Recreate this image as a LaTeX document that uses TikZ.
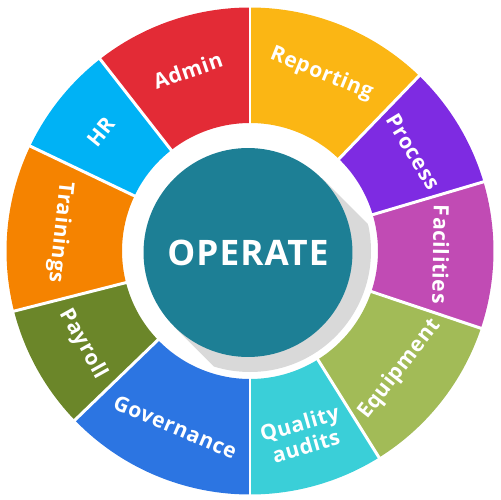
\documentclass[tikz,border=0pt]{standalone}
\usepackage{fontspec}
\setmainfont{Open Sans}
\newfontfamily\lblfont[LetterSpace=3]{Open Sans}
\usetikzlibrary{backgrounds}
\definecolor{opred}{HTML}{E32B36}
\definecolor{opsky}{HTML}{00B2F5}
\definecolor{oporange}{HTML}{F58300}
\definecolor{opolive}{HTML}{6B8629}
\definecolor{opblue}{HTML}{2C75E2}
\definecolor{opcyan}{HTML}{3ACFD8}
\definecolor{oplime}{HTML}{A2BB57}
\definecolor{opmagenta}{HTML}{C14BB4}
\definecolor{oppurple}{HTML}{7E2BE2}
\definecolor{opamber}{HTML}{FBB614}
\definecolor{opteal}{HTML}{1D7F95}
\definecolor{opgrey}{HTML}{D9D9D9}

\begin{document}
\begin{tikzpicture}[x=0.02cm,y=0.02cm,
  sep/.style={white,line width=1.7pt},
  lbl/.style={text=white,font=\lblfont\fontsize{12}{13.5}\selectfont\bfseries,align=center,inner sep=0pt},
  hub/.style={circle,fill=opteal,text=white,inner sep=0pt,minimum size=4.18cm,
    font=\lblfont\fontsize{20}{24}\selectfont\bfseries}]
  \useasboundingbox (-250,-249) rectangle (250,251);
  % ring -- one sector per area, label at mid angle
  \foreach \a/\b/\col/\name/\txt/\rot in {
      90/128/opred/admin/Admin/19, 128/154.5/opsky/hr/HR/51,
      154.5/194.3/oporange/trn/Trainings/-96, 194.3/224/opolive/pay/Payroll/-61,
      224/270/opblue/gov/Governance/-23, 270/302/opcyan/qa/{Quality\\audits}/16,
      302/341.5/oplime/eqp/Equipment/52, 341.5/376.5/opmagenta/fac/Facilities/-91,
      16.5/46/oppurple/prc/Process/-59, 46/90/opamber/rep/Reporting/-22}{
    \fill[\col] (\a:128) arc[start angle=\a,end angle=\b,radius=128]
      -- (\b:243.5) arc[start angle=\b,end angle=\a,radius=243.5] -- cycle;
    \node[lbl,rotate=\rot] (\name) at ({(\a+\b)/2}:191) {\txt};}
  % white gaps between sectors
  \foreach \a in {90,128,154.5,194.3,224,270,302,341.5,16.5,46}
    \draw[sep] (\a:125) -- (\a:247);
  % centre and its long shadow
  \node[hub] (core) at (-2,-1.5) {OPERATE};
  \begin{scope}[on background layer]
    \clip (0,0) circle (121);
    \fill[opgrey] (core.45) -- ++(-45:300) -- ++(-135:209) -- (core.225) -- cycle;
  \end{scope}
\end{tikzpicture}
\end{document}
